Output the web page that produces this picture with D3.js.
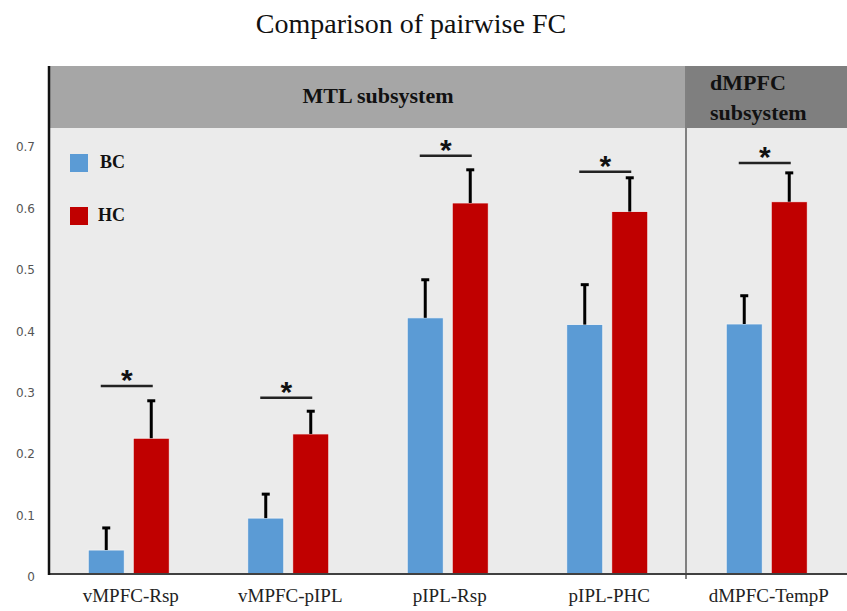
<!DOCTYPE html>
<html>
<head>
<meta charset="utf-8">
<script src="https://cdn.jsdelivr.net/npm/d3@7"></script>
<style>
  body { margin: 0; background: #fff; }
  svg { display: block; }
</style>
</head>
<body>
<svg id="chart"></svg>
<script>
// connection pairs on the x-axis
const categories = ["vMPFC-Rsp", "vMPFC-pIPL", "pIPL-Rsp", "pIPL-PHC", "dMPFC-TempP"];
const groups = ["BC", "HC"];

// mean FC and standard error for each group
const bcMean = [0.039, 0.091, 0.417, 0.406, 0.407];
const bcErr = [0.036, 0.039, 0.062, 0.065, 0.046];
const hcMean = [0.221, 0.228, 0.604, 0.590, 0.606];
const hcErr = [0.061, 0.037, 0.054, 0.055, 0.047];

// height of the significance line for each pair
const sigLevel = [0.306, 0.287, 0.681, 0.655, 0.669];

const yTicks = [0, 0.1, 0.2, 0.3, 0.4, 0.5, 0.6, 0.7];

// subsystems shown in the header band
const subsystemNames = ["MTL subsystem", "dMPFC subsystem"];
const subsystemMembers = [
  ["vMPFC-Rsp", "vMPFC-pIPL", "pIPL-Rsp", "pIPL-PHC"],
  ["dMPFC-TempP"]
];

const width = 847, height = 611;
const margin = { top: 66, right: 0, bottom: 38, left: 49 };
const headerHeight = 62;
const serif = "'Liberation Serif', 'Times New Roman', serif";

const svg = d3.select("#chart")
    .attr("width", width)
    .attr("height", height)
    .attr("viewBox", [0, 0, width, height]);

const color = d3.scaleOrdinal().domain(groups).range(["#5b9bd5", "#c00000"]);

const x = d3.scaleBand()
    .domain(categories)
    .range([margin.left, 846.5]);

const xSub = d3.scaleBand()
    .domain(groups)
    .range([x.bandwidth() / 2 - 40.5, x.bandwidth() / 2 + 40.5])
    .paddingInner(0.2);

const y = d3.scaleLinear()
    .domain([0, 0.7])
    .range([574, 144]);

const baseY = y(0);
const headerTop = margin.top;
const headerBottom = margin.top + headerHeight;

// title
svg.append("text")
    .attr("x", 411)
    .attr("y", 33)
    .attr("text-anchor", "middle")
    .style("font-family", serif)
    .style("font-size", "28px")
    .attr("fill", "#111")
    .text("Comparison of pairwise FC");

// plot background
svg.append("rect")
    .attr("x", margin.left)
    .attr("y", headerBottom)
    .attr("width", width - margin.left)
    .attr("height", baseY - headerBottom)
    .attr("fill", "#ebebeb");

// header bands for each subsystem
const subsystems = subsystemNames.map((name, i) => {
  const members = subsystemMembers[i];
  return {
    name,
    x0: x(members[0]),
    x1: i === subsystemNames.length - 1 ? width : x(members[members.length - 1]) + x.bandwidth()
  };
});
const headerColor = ["#a6a6a6", "#7f7f7f"];

svg.append("g")
  .selectAll("rect")
  .data(subsystems)
  .join("rect")
    .attr("x", d => d.x0)
    .attr("y", headerTop)
    .attr("width", d => d.x1 - d.x0)
    .attr("height", headerHeight)
    .attr("fill", (d, i) => headerColor[i]);

// MTL label centred, dMPFC label split over two lines
svg.append("text")
    .attr("x", (subsystems[0].x0 + subsystems[0].x1) / 2 + 10)
    .attr("y", 103)
    .attr("text-anchor", "middle")
    .style("font-family", serif)
    .style("font-size", "22px")
    .style("font-weight", "bold")
    .attr("fill", "#111")
    .text(subsystems[0].name);

const dLabel = svg.append("text")
    .attr("x", subsystems[1].x0 + 23)
    .attr("y", 90)
    .style("font-family", serif)
    .style("font-size", "22px")
    .style("font-weight", "bold")
    .attr("fill", "#111");
subsystems[1].name.split(" ").forEach((word, i) => {
  dLabel.append("tspan")
      .attr("x", subsystems[1].x0 + 23)
      .attr("dy", i === 0 ? 0 : 30)
      .text(word);
});

// divider between the subsystems
svg.append("line")
    .attr("x1", subsystems[1].x0 - 1)
    .attr("x2", subsystems[1].x0 - 1)
    .attr("y1", headerTop)
    .attr("y2", baseY + 5)
    .attr("stroke", "#808080")
    .attr("stroke-width", 2);

// bars
const rows = categories.map((c, i) => ({
  key: c,
  values: [
    { group: "BC", mean: bcMean[i], err: bcErr[i] },
    { group: "HC", mean: hcMean[i], err: hcErr[i] }
  ],
  sig: sigLevel[i]
}));

const series = svg.append("g")
  .selectAll("g")
  .data(rows)
  .join("g")
    .attr("transform", d => `translate(${x(d.key)},0)`);

series.selectAll("rect")
  .data(d => d.values)
  .join("rect")
    .attr("x", d => xSub(d.group))
    .attr("y", d => y(d.mean))
    .attr("width", xSub.bandwidth())
    .attr("height", d => baseY - y(d.mean))
    .attr("fill", d => color(d.group))
    .attr("stroke", "#f4f4f4")
    .attr("stroke-width", 0.8);

// error bars (upper half only)
const errBars = series.selectAll("g.err")
  .data(d => d.values)
  .join("g")
    .attr("class", "err");

errBars.append("line")
    .attr("x1", d => xSub(d.group) + xSub.bandwidth() / 2)
    .attr("x2", d => xSub(d.group) + xSub.bandwidth() / 2)
    .attr("y1", d => y(d.mean))
    .attr("y2", d => y(d.mean + d.err))
    .attr("stroke", "#000")
    .attr("stroke-width", 3);

errBars.append("line")
    .attr("x1", d => xSub(d.group) + xSub.bandwidth() / 2 - 4)
    .attr("x2", d => xSub(d.group) + xSub.bandwidth() / 2 + 4)
    .attr("y1", d => y(d.mean + d.err))
    .attr("y2", d => y(d.mean + d.err))
    .attr("stroke", "#000")
    .attr("stroke-width", 3);

// significance lines and stars
series.append("line")
    .attr("x1", x.bandwidth() / 2 - 28)
    .attr("x2", x.bandwidth() / 2 + 24)
    .attr("y1", d => y(d.sig))
    .attr("y2", d => y(d.sig))
    .attr("stroke", "#222")
    .attr("stroke-width", 2.5);

series.append("text")
    .attr("x", x.bandwidth() / 2 - 2)
    .attr("y", d => y(d.sig) + 4)
    .attr("text-anchor", "middle")
    .style("font-family", "'Liberation Sans', Arial, sans-serif")
    .style("font-size", "30px")
    .style("font-weight", "bold")
    .attr("fill", "#111")
    .text("*");

// axes
svg.append("line")
    .attr("x1", margin.left)
    .attr("x2", width)
    .attr("y1", baseY)
    .attr("y2", baseY)
    .attr("stroke", "#404040")
    .attr("stroke-width", 2);

svg.append("line")
    .attr("x1", margin.left)
    .attr("x2", margin.left)
    .attr("y1", headerTop)
    .attr("y2", baseY + 1)
    .attr("stroke", "#111")
    .attr("stroke-width", 2.5);

const yAxis = d3.axisLeft(y)
    .tickValues(yTicks)
    .tickSize(0)
    .tickPadding(14)
    .tickFormat(d => d === 0 ? "0" : d3.format(".1f")(d));

svg.append("g")
    .attr("transform", `translate(${margin.left},3)`)
    .call(yAxis)
    .call(g => g.select(".domain").remove())
    .call(g => g.selectAll("text")
        .style("font-family", "'DejaVu Sans', Verdana, sans-serif")
        .style("font-size", "12px")
        .attr("fill", "#555"));

// category labels
svg.append("g")
  .selectAll("text")
  .data(categories)
  .join("text")
    .attr("x", d => x(d) + x.bandwidth() / 2 + 2)
    .attr("y", 602)
    .attr("text-anchor", "middle")
    .style("font-family", serif)
    .style("font-size", "19px")
    .attr("fill", "#222")
    .text(d => d);

// legend
const legend = svg.append("g")
  .selectAll("g")
  .data(groups)
  .join("g")
    .attr("transform", (d, i) => `translate(70,${154 + i * 53})`);

legend.append("rect")
    .attr("width", 18)
    .attr("height", 18)
    .attr("fill", d => color(d));

legend.append("text")
    .attr("x", d => d === "BC" ? 30 : 28)
    .attr("y", 14)
    .style("font-family", serif)
    .style("font-size", "18px")
    .style("font-weight", "bold")
    .attr("fill", "#111")
    .text(d => d);
</script>
</body>
</html>
